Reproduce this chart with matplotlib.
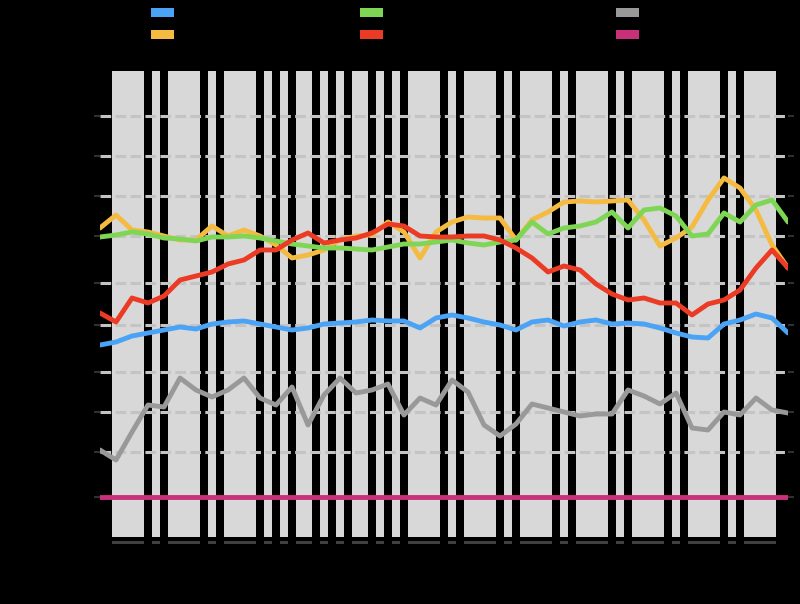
import numpy as np
import matplotlib
matplotlib.use('Agg')
import matplotlib.pyplot as plt
from matplotlib.patches import Patch

# shaded day ranges (start day, number of days)
shadeStart = [0, 5, 7, 12, 14, 19, 21, 23, 26, 28, 30, 33, 35, 37, 42, 44, 49, 51, 56, 58, 63, 65, 70, 72, 77, 79]
shadeLen = [4, 1, 4, 1, 4, 1, 1, 2, 1, 1, 2, 1, 1, 4, 1, 4, 1, 4, 1, 4, 1, 4, 1, 4, 1, 4]

yTicks = [40, 85, 125, 165, 212, 254, 301, 341, 381, 421]

blue = [192, 195, 201, 204, 207, 210, 208, 213, 215, 216,
        213, 210, 207, 209, 213, 214, 215, 217, 216, 216,
        209, 219, 222, 219, 215, 212, 207, 215, 217, 211,
        215, 217, 213, 214, 213, 209, 204, 200, 199, 213,
        217, 223, 219, 204]
yellow = [309, 322, 307, 305, 301, 297, 297, 311, 301, 307,
          301, 292, 279, 282, 287, 297, 301, 302, 315, 305,
          279, 305, 315, 320, 319, 319, 297, 317, 325, 335,
          336, 335, 336, 337, 317, 291, 299, 310, 337, 359,
          349, 327, 292, 269]
green = [300, 302, 305, 303, 299, 298, 296, 300, 300, 301,
         299, 296, 293, 291, 289, 289, 288, 287, 290, 293,
         293, 295, 297, 294, 292, 295, 297, 315, 303, 309,
         311, 315, 325, 309, 327, 329, 321, 301, 303, 324,
         315, 332, 337, 315]
red = [224, 215, 239, 234, 241, 257, 261, 265, 273, 277,
       287, 287, 297, 304, 294, 297, 299, 304, 313, 311,
       301, 300, 300, 301, 301, 297, 289, 279, 265, 271,
       267, 253, 243, 237, 239, 234, 234, 222, 233, 237,
       247, 269, 287, 269]
grey = [87, 77, 105, 132, 130, 159, 147, 140, 147, 159,
        139, 132, 150, 112, 142, 159, 144, 147, 153, 122,
        139, 132, 157, 145, 112, 101, 113, 133, 129, 125,
        121, 123, 123, 147, 141, 133, 144, 109, 107, 125,
        122, 139, 127, 124]
pink = [40] * 44

series = [
    ('Series A', blue, '#4aa3f5'),
    ('Series B', yellow, '#f4bb40'),
    ('Series C', green, '#7fd655'),
    ('Series D', red, '#eb3b24'),
    ('Series E', grey, '#999999'),
    ('Series F', pink, '#c8307a'),
]
drawOrder = [1, 2, 3, 0, 4, 5]

x = np.linspace(-1.5, 84.5, len(blue))

fig = plt.figure(figsize=(8, 6.04), dpi=100, facecolor='black')
ax = fig.add_axes([0.125, 0.1109, 0.86, 0.7716])
ax.set_facecolor('black')

ax.bar(shadeStart, 466, width=shadeLen, align='edge', color='#d8d8d8', zorder=1)
ax.bar(shadeStart, 3, width=shadeLen, bottom=-7, align='edge', color='#404040',
       clip_on=False, zorder=1)

for z, i in enumerate(drawOrder):
    name, vals, col = series[i]
    ax.plot(x, vals, color=col, lw=3.5, solid_joinstyle='round',
            solid_capstyle='round', zorder=3 + z)

ax.set_xlim(-1.5, 84.5)
ax.set_ylim(0, 466)
ax.set_yticks(yTicks)
ax.set_xticks([])
ax.tick_params(axis='y', left=True, right=True, length=4, width=1.5,
               color='#303030', labelcolor='black', labelsize=10)
ax.grid(axis='y', color='#c4c4c4', lw=2.2, linestyle=(0, (3.5, 1.4)))
ax.set_axisbelow(False)
for s in ax.spines.values():
    s.set_visible(False)

anchors = [0.173, 0.434, 0.7545]
for c in range(3):
    handles = []
    for i in (2 * c, 2 * c + 1):
        name, vals, col = series[i]
        handles.append(Patch(facecolor=col, edgecolor='none', label=name))
    fig.legend(handles=handles, loc='upper left', bbox_to_anchor=(anchors[c], 1.0099),
               frameon=False, fontsize=10, handlelength=1.65, handleheight=0.58,
               labelspacing=0.55, labelcolor='black')

fig.savefig('out.png', facecolor='black')
